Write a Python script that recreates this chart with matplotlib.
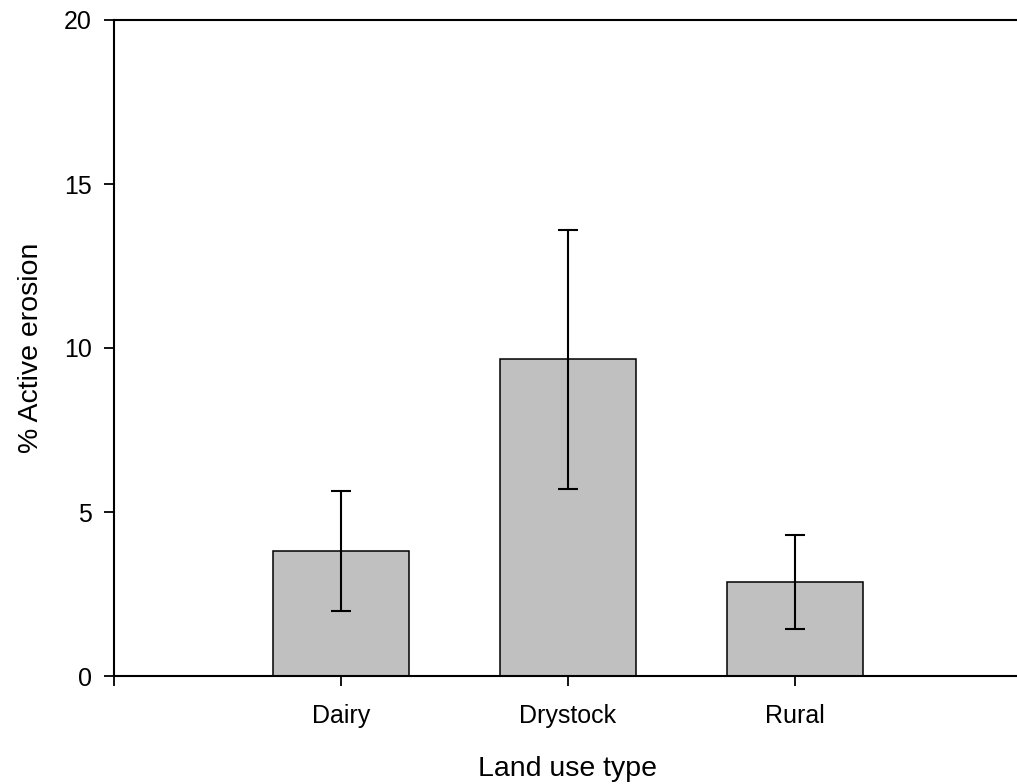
import matplotlib
matplotlib.use('Agg')
import matplotlib.pyplot as plt

# Données
categories = ['Dairy', 'Drystock', 'Rural']
erosion = [3.81, 9.66, 2.87]
erreur = [1.83, 3.95, 1.43]

plt.rcParams['font.family'] = ['Liberation Sans', 'DejaVu Sans']

fig = plt.figure(figsize=(10.17, 7.84), dpi=100)
# l'axe déborde un peu à droite de l'image, comme dans l'original
ax = fig.add_axes([114 / 1017, 1 - 676 / 784, (1022 - 114) / 1017, (676 - 20) / 784])

positions = [1, 2, 3]
ax.bar(positions, erosion, width=0.6, color='#c0c0c0', edgecolor='black', linewidth=1.1,
       yerr=erreur, capsize=7, error_kw={'elinewidth': 1.5, 'capthick': 1.5, 'ecolor': 'black'},
       zorder=2)

ax.set_xlim(0, 4)
ax.set_ylim(0, 20)
ax.set_yticks([0, 5, 10, 15, 20])
ax.set_xticks([0, 1, 2, 3, 4])
ax.set_xticklabels([''] + categories + [''])

ax.spines['right'].set_visible(False)
for s in ['left', 'bottom', 'top']:
    ax.spines[s].set_linewidth(1.5)

ax.tick_params(axis='both', direction='out', length=7, width=1.3, labelsize=18)
ax.tick_params(axis='y', pad=9)
ax.tick_params(axis='x', pad=13.5)
ax.tick_params(top=False, right=False)

ax.set_xlabel('Land use type', fontsize=20.5, labelpad=20)
ax.set_ylabel('% Active erosion', fontsize=20.5, labelpad=14)

fig.savefig('out.png', dpi=100)
